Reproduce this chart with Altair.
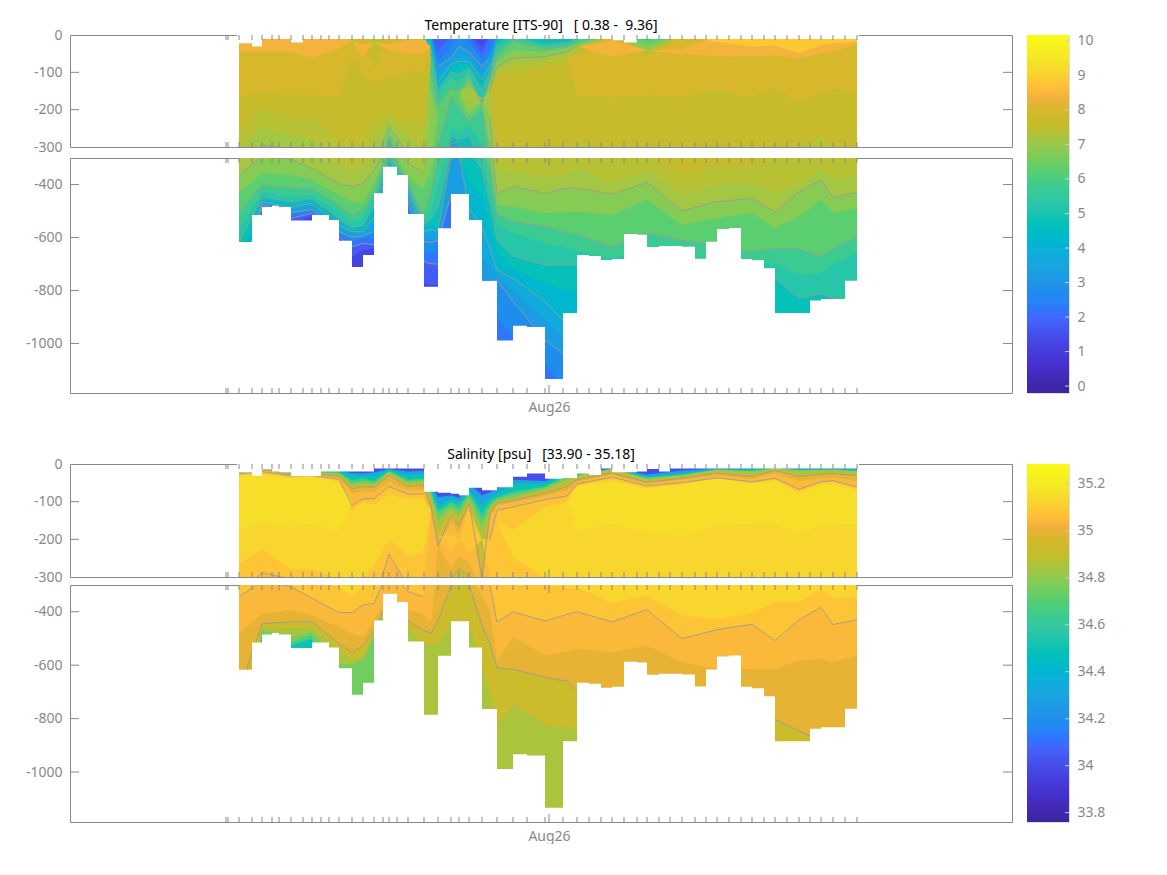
import altair as alt
import numpy as np
import pandas as pd

AUG26 = 549
X_DOMAIN = [70, 1012]
EXTRA_TICKS = [226, 228]

# casts: time position along the axis, sea-floor depth, shallowest sample of each field
casts = [239,252,262,272,279,291,303,312,321,329,339,352,363,374,383,389,397,408,424,438,451,459,469,482,497,513,527,545,
         563,577,589,601,612,624,637,647,659,670,682,695,706,717,729,741,752,764,775,787,799,810,821,833,845,857]
bottom = [617,515,485,480,485,536,536,515,515,534,612,711,666,433,333,333,364,511,786,565,436,436,534,764,989,933,938,1134,
          885,666,670,685,681,587,590,636,632,632,635,680,616,568,564,681,686,716,885,885,885,838,832,832,763,763]
t_top = [22,31,11,11,11,20,11,11,11,11,11,11,11,11,11,11,11,11,11,11,11,11,11,11,11,11,11,11,
         11,11,11,11,14,20,11,11,11,11,11,11,11,11,11,11,11,11,11,11,11,11,11,11,11,11]
s_top = [22,31,14,20,22,32,32,32,20,20,20,20,20,12,12,12,12,12,74,76,79,83,63,70,62,34,25,39,
         37,25,29,12,22,22,20,13,20,12,12,12,12,12,12,12,12,12,12,12,12,12,12,12,12,12]

# section nodes at which the isolines are read
nodes = [239,262,291,312,339,352,363,374,389,408,423,431,438,451,459,469,482,490,497,513,545,567,577,612,647,682,717,752,775,799,821,833,857]

# Temperature: for each level, deepest depth of water at or above it, and (sparse) shallowest depth when not the surface
t_levels = [1.5,2,2.5,3,3.5,4,4.5,5,5.5,6,6.5,7,7.25,7.5,8,8.5,9]
t_shades = [1.75,2.25,2.75,3.25,3.75,4.25,4.75,5.25,5.75,6.25,6.75,7.12,7.37,7.62,8.0,8.4,8.85]
t_lower = [
 [800,490,550,520,616,672,647,640,350,520,773,780,780]+[1300]*20,
 [800,490,528,509,599,635,622,628,350,509,690,700,700]+[1300]*20,
 [800,480,515,503,591,612,603,603,350,490,650,660,640,440,440,700,900,800,900,975,1075,1180,1180]+[1300]*10,
 [800,477,506,494,578,599,594,578,340,465,615,620,610,440,440,600,765,765,760,842,987,1050,1050]+[1300]*10,
 [800,471,496,484,569,587,587,553,333,446,595,590,590,310,297,560,680,710,742,798,911,987,990]+[1200]*10,
 [800,465,486,471,553,578,578,521,328,433,578,570,575,292,285,490,560,640,723,754,842,930,930]+[1100]*10,
 [700,458,477,465,540,572,568,503,320,421,565,550,560,282,295,385,440,550,660,716,773,800,800]+[900]*10,
 [622,446,465,452,528,562,553,477,310,411,553,530,490,270,280,270,345,470,609,670,704,704,704,760,720,740,760,770,754,830,813,830,836],
 [572,427,446,440,503,544,528,452,295,402,540,500,400,250,260,241,300,420,550,584,622,640,650,680,640,670,690,700,698,741,735,700,660],
 [509,402,414,414,477,515,496,433,277,389,515,430,300,165,195,230,200,350,510,540,559,580,590,635,584,610,628,653,641,643,672,641,599],
 [433,358,364,383,440,465,465,396,259,370,420,350,220,160,170,215,180,300,477,484,509,505,503,515,458,553,528,509,565,521,458,509,490],
 [364,295,305,339,396,408,396,345,245,320,355,200,150,150,150,200,170,220,433,408,433,414,414,436,392,500,465,452,505,427,383,450,430],
 [310,245,270,280,330,350,330,285,225,275,300,70,110,110,110,160,150,160,340,350,370,360,339,396,346,440,400,395,435,400,340,385,365],
 [263,196,223,220,277,290,277,232,210,232,241,60,100,100,100,150,150,150,300,300,300,300,290,305,295,364,326,325,300,300,270,300,310],
 [165,152,160,160,165,60,107,130,116,94,107,40,40,60,60,60,60,60,60,60,60,60,161,165,161,165,147,165,143,179,156,143,156],
 [45,45,45,62,36,15,58,20,40,50,50,30,0,0,0,0,0,0,0,0,0,0,30,58,40,52,56,58,55,62,50,45,25],
 [0]*26+[18,31,28,49,27,22,18],
]
t_upper = [
 {482:30},
 {438:40,482:55},
 {438:70,451:30,469:20,482:65,490:40},
 {438:84,451:60,459:30,469:45,482:85,490:60},
 {438:105,451:72,459:50,469:60,482:105,490:70},
 {438:125,451:80,459:70,469:71,482:120,490:80},
 {431:20,438:138,451:89,459:85,469:78,482:130,490:90,497:15},
 {431:40,438:150,451:100,459:105,469:89,482:147,490:100,497:25,545:25,567:20},
 {431:60,438:165,451:115,459:125,469:100,482:223,490:110,497:40,513:8,545:30,567:25,577:12,647:12},
 {431:100,438:190,451:143,459:150,469:112,482:185,490:120,497:55,513:15,545:38,567:30,577:18,647:15},
 {431:150,438:220,451:160,459:170,469:125,482:180,490:130,497:70,513:40,545:45,567:35,577:25,647:25},
 {431:200,438:150,451:150,459:150,469:140,482:170,490:150,497:85,513:62,545:58,567:45,577:31,647:40},
 {431:70,438:110,451:110,459:110,469:160,482:150,490:160,497:95,513:78,545:70,567:50,577:36,647:44},
 {352:20,374:25,431:60,438:100,451:100,459:100,469:150,482:150,490:150,497:107,513:105,545:85,567:70,577:45,647:50},
 {352:30,374:90,431:40,438:40,451:60,459:60,469:60,482:60,490:60,497:60,513:60,545:60,567:60,577:55,647:58},
 {352:15,363:25,374:20,389:25,408:15,423:15,431:30,577:30,612:15,647:40,682:38},
 {},
]

# Salinity, same layout
s_levels = [34.2,34.4,34.6,34.7,34.8,34.9,34.95,35,35.05,35.1,35.15]
s_shades = [34.3,34.5,34.65,34.75,34.85,34.93,34.995,35.045,35.08,35.13,35.16]
s_lower = [
 [1300]*33,
 [1300]*33,
 [1300,486,526,501]+[1300]*29,
 [1300,478,514,489]+[1000]*14+[1300]*15,
 [1000,470,495,476,596,598,580,490,370,514,1000,1000,1000,560,560,530,1000,1000]+[1300]*15,
 [900,457,463,457,545,577,570,480,360,457,520,520,520,450,440,450,608,700,822,747,822,835,835]+[900]*10,
 [700,445,438,438,520,552,526,470,350,432,470,480,432,303,279,297,450,520,611,615,646,660,696,720,700,700,720,740,803,845,885,860,900],
 [482,407,394,413,457,482,495,432,330,394,407,440,217,279,244,262,340,400,583,495,564,550,539,552,526,589,614,614,614,583,577,589,564],
 [344,288,306,350,403,403,375,369,239,325,344,135,190,235,200,235,200,300,438,400,435,410,400,438,392,501,467,447,508,430,384,448,430],
 [266,226,279,279,306,345,300,270,199,244,235,120,150,150,150,150,150,150,150,250,300,309,309,367,340,413,428,405,363,363,318,350,344],
 [172,155,168,159,177,100,100,100,100,100,100,100,100,100,100,100,100,100,100,100,100,100,177,159,181,190,163,159,159,186,161,161,159],
]
s_upper = [
 {239:10,262:8,291:14,312:14,339:18,352:24,363:25,374:22,389:13,408:20,423:18,431:50,438:88,451:83,459:90,469:52,482:83,490:75,497:65,513:42,545:45,567:22,577:24,612:12,647:28,682:17,717:12,752:12,775:10,799:12,821:12,833:12,857:12},
 {239:12,262:9,291:16,312:16,339:20,352:29,363:32,374:30,389:15,408:30,423:25,431:60,438:110,451:92,459:100,469:70,482:110,490:90,497:79,513:52,545:52,567:25,577:26,612:13,647:33,682:25,717:13,752:14,775:10,799:13,821:13,833:13,857:14},
 {239:14,262:10,291:18,312:18,339:22,352:43,363:38,374:45,389:18,408:42,423:38,431:70,438:123,451:101,459:110,469:75,482:132,490:100,497:88,513:74,545:60,567:30,577:28,612:13,647:36,682:28,717:14,752:18,775:11,799:16,821:15,833:14,857:18},
 {239:16,262:11,291:20,312:20,339:24,352:50,363:44,374:50,389:20,408:46,423:42,431:80,438:133,451:110,459:122,469:83,482:150,490:110,497:92,513:80,545:62,567:35,577:30,612:14,647:38,682:29,717:15,752:19,775:12,799:17,821:16,833:15,857:19},
 {239:18,262:12,291:22,312:22,339:26,352:55,363:50,374:55,389:22,408:50,423:46,431:85,438:150,451:119,459:133,469:90,482:172,490:115,497:96,513:88,545:66,567:40,577:32,612:14,647:40,682:30,717:16,752:20,775:12,799:18,821:17,833:16,857:20},
 {239:20,262:14,291:25,312:24,339:28,352:60,363:55,374:57,389:25,408:55,423:50,431:90,438:177,451:128,459:146,469:96,482:229,490:120,497:101,513:92,545:72,567:50,577:36,612:16,647:44,682:34,717:20,752:28,775:14,799:27,821:23,833:22,857:26},
 {239:22,262:14,291:28,312:26,339:32,352:66,363:60,374:62,389:30,408:60,423:55,431:110,438:217,451:137,459:163,469:104,482:300,490:130,497:104,513:97,545:78,567:60,577:42,612:24,647:48,682:38,717:24,752:33,775:17,799:33,821:27,833:26,857:30},
 {239:25,262:16,291:30,312:28,339:36,352:79,363:72,374:75,389:45,408:70,423:68,431:130,438:217,451:155,459:181,469:110,482:330,490:140,497:110,513:103,545:84,567:70,577:48,612:28,647:53,682:42,717:30,752:40,775:25,799:45,821:38,833:36,857:45},
 {239:27,262:20,291:32,312:30,339:40,352:110,363:93,374:92,389:60,408:80,423:80,431:135,438:190,451:190,459:200,469:123,482:200,490:200,497:123,513:114,545:95,567:85,577:53,612:35,647:58,682:49,717:37,752:47,775:38,799:67,821:47,833:44,857:61},
 {239:30,262:25,291:35,312:33,339:45,352:123,363:101,374:108,389:80,408:92,423:92,431:120,438:150,451:150,459:150,469:150,482:150,490:150,497:150,513:176,545:115,567:100,577:58,612:42,647:64,682:54,717:42,752:53,775:42,799:74,821:52,833:50,857:68},
 {239:34,262:30,291:38,312:35,339:50,352:100,363:100,374:100,389:100,408:100,423:100,431:100,438:100,451:100,459:100,469:100,482:100,490:100,497:100,513:100,545:100,567:100,577:60,612:47,647:65,682:56,717:38,752:52,775:47,799:83,821:56,833:56,857:70},
]

# colour ramp (position 0-1 along the bar)
ramp_pos = [0,0.02,0.067,0.115,0.164,0.212,0.26,0.308,0.356,0.404,0.452,0.5,0.548,0.597,0.645,0.693,0.741,0.789,0.823,0.849,0.886,0.934,1]
ramp_col = ["#3c26a5","#3f27a8","#452ec8","#463cdd","#4650ea","#4167ff","#2a85f5","#2595e5","#1ca5e0","#10b0d8","#00bec0","#18c4b0",
            "#35c8a0","#48ce80","#6dce60","#98c84c","#c0be2c","#d6b82a","#f0b03c","#ffbc3a","#fad030","#f5e726","#f9fb15"]
T_RANGE = [-0.2, 10.17]
S_RANGE = [33.76, 35.285]
t_ticks = [0,1,2,3,4,5,6,7,8,9,10]
s_ticks = [33.8,34,34.2,34.4,34.6,34.8,35,35.2]
t_contours = [2,3,4,5,6,7]
s_contours = [34.95,35.05]

GREY = "#888888"
FONT = "Noto Sans"
W = 942
BAR = 42
BAR_H = 358


def scale_for(rng):
    return alt.Scale(domain=[rng[0] + p * (rng[1] - rng[0]) for p in ramp_pos], range=ramp_col, clamp=True)


def tables(levels, shades, lower, upper, base_shade, contours):
    rows, lines = [], []
    for i, x in enumerate(nodes):
        rows.append(dict(level=0, x=x, y=0, y2=-1400, shade=base_shade))
    for k, (lv, sh, lo, up) in enumerate(zip(levels, shades, lower, upper), start=1):
        assert len(lo) == len(nodes), (lv, len(lo))
        for i, x in enumerate(nodes):
            a = up.get(x, 0)
            rows.append(dict(level=k, x=x, y=-a, y2=-lo[i], shade=sh))
        if lv in contours:
            for end in ("lo", "up"):
                for i, x in enumerate(nodes):
                    a = up.get(x, 0)
                    d = lo[i] if end == "lo" else a
                    ok = a < lo[i] and (end == "lo" or a > 0)
                    lines.append(dict(line=f"{lv}{end}", x=x, y=-d if ok else None))
    return pd.DataFrame(rows), pd.DataFrame(lines)


def masks(top):
    assert len(top) == len(casts) == len(bottom)
    xs = [casts[0] - 2] + casts + [casts[-1] + 2]
    t = [top[0]] + top + [top[-1]]
    b = [bottom[0]] + bottom + [bottom[-1]]
    m1 = pd.DataFrame({"x": xs, "y": [-v for v in t], "y2": [0] * len(xs)})
    m2 = pd.DataFrame({"x": xs, "y": [-v for v in b], "y2": [-1400] * len(xs)})
    return m1, m2


def panel(bands, lines, top, color_scale, ydom, height, yvals, xaxis, title=None):
    ys = alt.Scale(domain=ydom, nice=False, zero=False)
    xs = alt.Scale(domain=X_DOMAIN, nice=False, zero=False)
    xax = alt.Axis(values=[AUG26], labelExpr="'Aug26'", title=None, grid=False, domain=False, ticks=False,
                   labelFont=FONT, labelFontSize=14, labelColor=GREY, labelPadding=7) if xaxis else None
    yax = alt.Axis(values=yvals, labelExpr="'' + datum.value", title=None, grid=False, domain=False, ticks=False,
                   labelFont=FONT, labelFontSize=14, labelColor=GREY, labelPadding=8, minExtent=61, maxExtent=61)
    X = alt.X("x:Q", scale=xs, axis=xax)
    Y = alt.Y("y:Q", scale=ys, axis=yax)
    area = alt.Chart(bands).mark_area(clip=True).encode(
        x=X, y=Y, y2="y2:Q",
        detail="level:N",
        order="level:Q",
        color=alt.Color("shade:Q", scale=color_scale, legend=None),
    )
    cl = alt.Chart(lines).mark_line(clip=True, color="#9a9a9a", strokeWidth=1, opacity=0.85).encode(
        x=X, y=Y, detail="line:N")
    m1, m2 = masks(top)
    layers = [area, cl]
    for m in (m1, m2):
        layers.append(alt.Chart(m).mark_area(clip=True, color="white", interpolate="step-after").encode(
            x=X, y=Y, y2="y2:Q"))
    tick_df = pd.DataFrame({"x": EXTRA_TICKS + casts})
    maj_df = pd.DataFrame({"x": [AUG26]})
    for df, ln in ((tick_df, 5), (maj_df, 8)):
        for y0, y1 in ((0, ln), (height - ln, height)):
            layers.append(alt.Chart(df).mark_rule(color=GREY, strokeWidth=1).encode(
                x=X, y=alt.value(y0), y2=alt.value(y1)))
    inner = [v for v in yvals if ydom[0] < v < ydom[1]]
    ydf = pd.DataFrame({"y": inner})
    for x0, x1 in ((0, 9), (W - 9, W)):
        layers.append(alt.Chart(ydf).mark_rule(color=GREY, strokeWidth=1).encode(
            y=Y, x=alt.value(x0), x2=alt.value(x1)))
    props = dict(width=W, height=height)
    if title:
        props["title"] = alt.TitleParams(title, font=FONT, fontSize=14, fontWeight="normal", color="black", offset=-5, anchor="middle")
    return alt.layer(*layers).properties(**props)


def colorbar(rng, ticks, color_scale, n=160):
    edges = np.linspace(rng[0], rng[1], n + 1)
    step = edges[1] - edges[0]
    df = pd.DataFrame({"v": edges[:-1], "v2": np.minimum(edges[1:] + step * 0.6, rng[1])})
    df["c"] = edges[:-1] + step / 2
    ys = alt.Scale(domain=rng, nice=False, zero=False)
    Y = alt.Y("v:Q", scale=ys, axis=alt.Axis(orient="right", values=ticks, labelExpr="'' + datum.value", title=None, grid=False,
                                             domain=False, ticks=False, labelFont=FONT, labelFontSize=14, labelColor=GREY, labelPadding=8))
    bar = alt.Chart(df).mark_rect().encode(
        x=alt.value(0), x2=alt.value(BAR),
        y=Y, y2="v2:Q",
        color=alt.Color("c:Q", scale=color_scale, legend=None),
    )
    Yt = alt.Y("y:Q", scale=ys, axis=alt.Axis(orient="right", values=ticks, labelExpr="'' + datum.value", title=None, grid=False,
                                              domain=False, ticks=False, labelFont=FONT, labelFontSize=14, labelColor=GREY, labelPadding=8))
    tk = alt.Chart(pd.DataFrame({"y": ticks})).mark_rule(color="#cccccc", strokeWidth=1).encode(
        y=Yt, x=alt.value(BAR - 4), x2=alt.value(BAR))
    return alt.layer(bar, tk).properties(
        width=BAR, height=BAR_H,
        view=alt.ViewConfig(stroke="#dddddd"),
        title=alt.TitleParams(" ", font=FONT, fontSize=14, offset=-5),
    )


def row(levels, shades, lower, upper, base, contours, top, rng, ticks, title, h1, h2, gap):
    cs = scale_for(rng)
    bands, lines = tables(levels, shades, lower, upper, base, contours)
    p1 = panel(bands, lines, top, cs, [-300, 0], h1, [-300, -200, -100, 0], False, title)
    p2 = panel(bands, lines, top, cs, [-1187, -300], h2, [-1000, -800, -600, -400], True)
    left = alt.vconcat(p1, p2, spacing=gap).resolve_scale(color="shared")
    return alt.hconcat(left, colorbar(rng, ticks, cs), spacing=13).resolve_scale(color="independent", y="independent", x="independent")


top_row = row(t_levels, t_shades, t_lower, t_upper, 1.2, t_contours, t_top, T_RANGE, t_ticks,
              "Temperature [ITS-90]\u00a0\u00a0\u00a0[\u00a00.38\u00a0-\u00a0\u00a09.36]", 112, 235, 2)
bot_row = row(s_levels, s_shades, s_lower, s_upper, 34.0, s_contours, s_top, S_RANGE, s_ticks,
              "Salinity [psu]\u00a0\u00a0\u00a0[33.90\u00a0-\u00a035.18]", 113, 237, -1)

chart = alt.vconcat(top_row, bot_row, spacing=32).properties(
    padding={"left": 0, "top": 10, "right": 0, "bottom": 0}
).configure_view(stroke=GREY, strokeWidth=1).configure_concat(spacing=11)

chart.save("out.html", embed_options={"renderer": "svg", "actions": False})
